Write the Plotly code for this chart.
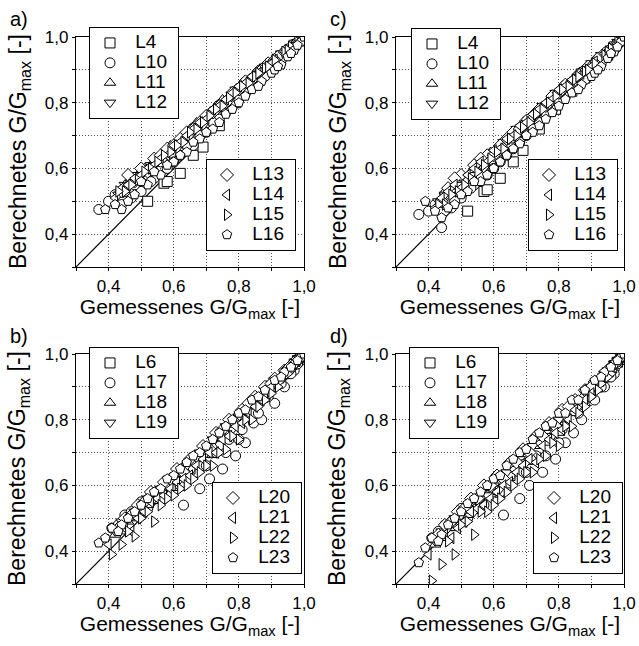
import plotly.graph_objects as go

# ---------------- data ----------------
# top row (panels a and c): measured x shared, computed y per panel
L4_x  = [0.52, 0.57, 0.58, 0.62, 0.66, 0.69, 0.74, 0.79, 0.84, 0.88, 0.92, 0.95, 0.97, 0.99, 1.0]
L4_ya = [0.50, 0.555, 0.56, 0.585, 0.64, 0.665, 0.73, 0.80, 0.86, 0.89, 0.925, 0.955, 0.975, 0.99, 1.0]
L4_yc = [0.47, 0.53, 0.535, 0.57, 0.62, 0.655, 0.72, 0.78, 0.835, 0.875, 0.915, 0.945, 0.97, 0.99, 1.0]

L10_x  = [0.37, 0.44, 0.47, 0.50, 0.54, 0.58, 0.62, 0.66, 0.70, 0.74, 0.78, 0.82, 0.86, 0.89, 0.92, 0.95, 0.97, 0.99, 1.0,
          0.42, 0.48, 0.52, 0.56, 0.64, 0.72, 0.80, 0.84, 0.93,
          0.40, 0.45, 0.53, 0.60, 0.68, 0.76, 0.88, 0.96, 0.98, 0.995]
L10_ya = [0.475, 0.49, 0.51, 0.53, 0.57, 0.60, 0.64, 0.67, 0.71, 0.75, 0.79, 0.83, 0.87, 0.895, 0.92, 0.95, 0.97, 0.99, 1.0,
          0.52, 0.55, 0.58, 0.62, 0.67, 0.74, 0.81, 0.86, 0.93,
          0.50, 0.53, 0.56, 0.62, 0.70, 0.77, 0.88, 0.955, 0.98, 0.995]
L10_yc = [0.46, 0.42, 0.48, 0.51, 0.55, 0.58, 0.62, 0.66, 0.70, 0.74, 0.78, 0.82, 0.855, 0.88, 0.91, 0.94, 0.965, 0.99, 1.0,
          0.49, 0.50, 0.55, 0.58, 0.64, 0.72, 0.80, 0.84, 0.92,
          0.47, 0.52, 0.54, 0.60, 0.68, 0.76, 0.87, 0.95, 0.975, 0.995]

L11_x  = [0.45, 0.49, 0.53, 0.57, 0.61, 0.65, 0.69, 0.73, 0.77, 0.81, 0.85, 0.88, 0.91, 0.94, 0.96, 0.98, 1.0,
          0.47, 0.55, 0.63, 0.71, 0.79, 0.86,
          0.43, 0.51, 0.59, 0.67, 0.75, 0.83, 0.93, 0.97, 0.99]
L11_ya = [0.55, 0.58, 0.61, 0.65, 0.68, 0.72, 0.75, 0.79, 0.82, 0.86, 0.89, 0.91, 0.935, 0.955, 0.97, 0.985, 1.0,
          0.57, 0.63, 0.70, 0.77, 0.84, 0.90,
          0.52, 0.60, 0.67, 0.74, 0.81, 0.87, 0.95, 0.975, 0.99]
L11_yc = [0.53, 0.56, 0.59, 0.63, 0.66, 0.70, 0.74, 0.77, 0.81, 0.85, 0.88, 0.905, 0.93, 0.95, 0.965, 0.985, 1.0,
          0.54, 0.61, 0.68, 0.75, 0.82, 0.88,
          0.49, 0.57, 0.65, 0.72, 0.79, 0.86, 0.94, 0.97, 0.99]

L12_x  = [0.43, 0.47, 0.51, 0.55, 0.59, 0.63, 0.67, 0.71, 0.75, 0.79, 0.83, 0.87, 0.90, 0.93, 0.96, 0.98, 1.0,
          0.49, 0.57, 0.65, 0.73, 0.81, 0.88,
          0.45, 0.53, 0.61, 0.69, 0.77, 0.85, 0.92, 0.95, 0.99]
L12_ya = [0.52, 0.56, 0.59, 0.62, 0.66, 0.69, 0.73, 0.76, 0.80, 0.84, 0.87, 0.90, 0.925, 0.95, 0.97, 0.985, 1.0,
          0.58, 0.63, 0.70, 0.78, 0.85, 0.91,
          0.55, 0.61, 0.66, 0.73, 0.81, 0.88, 0.94, 0.96, 0.99]
L12_yc = [0.50, 0.53, 0.57, 0.61, 0.64, 0.68, 0.72, 0.75, 0.79, 0.83, 0.86, 0.895, 0.92, 0.945, 0.965, 0.985, 1.0,
          0.55, 0.60, 0.67, 0.76, 0.83, 0.90,
          0.52, 0.58, 0.63, 0.71, 0.79, 0.87, 0.93, 0.955, 0.99]

L13_x  = [0.46, 0.50, 0.54, 0.58, 0.62, 0.66, 0.70, 0.74, 0.78, 0.82, 0.86, 0.89, 0.92, 0.95, 0.97, 0.99, 1.0,
          0.48, 0.56, 0.64, 0.72, 0.80, 0.87,
          0.44, 0.52, 0.60, 0.68, 0.76, 0.84, 0.91, 0.94, 0.98]
L13_ya = [0.58, 0.60, 0.63, 0.66, 0.69, 0.72, 0.76, 0.79, 0.83, 0.865, 0.895, 0.92, 0.94, 0.96, 0.975, 0.99, 1.0,
          0.56, 0.64, 0.71, 0.77, 0.84, 0.90,
          0.53, 0.59, 0.67, 0.74, 0.80, 0.87, 0.93, 0.955, 0.985]
L13_yc = [0.54, 0.58, 0.61, 0.64, 0.67, 0.71, 0.745, 0.78, 0.82, 0.855, 0.885, 0.91, 0.935, 0.955, 0.97, 0.99, 1.0,
          0.57, 0.63, 0.69, 0.76, 0.83, 0.89,
          0.50, 0.56, 0.64, 0.72, 0.79, 0.86, 0.92, 0.95, 0.98]

L14_x  = [0.44, 0.48, 0.52, 0.56, 0.60, 0.64, 0.68, 0.72, 0.76, 0.80, 0.84, 0.88, 0.91, 0.94, 0.97, 0.99, 1.0,
          0.46, 0.54, 0.62, 0.70, 0.78, 0.86,
          0.42, 0.50, 0.58, 0.66, 0.74, 0.82, 0.90, 0.95, 0.98]
L14_ya = [0.54, 0.57, 0.60, 0.63, 0.67, 0.70, 0.74, 0.78, 0.81, 0.85, 0.88, 0.91, 0.93, 0.955, 0.975, 0.99, 1.0,
          0.55, 0.61, 0.68, 0.75, 0.83, 0.89,
          0.51, 0.58, 0.64, 0.72, 0.79, 0.86, 0.92, 0.96, 0.985]
L14_yc = [0.51, 0.55, 0.58, 0.62, 0.655, 0.69, 0.73, 0.765, 0.80, 0.84, 0.87, 0.90, 0.925, 0.95, 0.97, 0.99, 1.0,
          0.53, 0.60, 0.66, 0.74, 0.81, 0.88,
          0.48, 0.54, 0.62, 0.70, 0.78, 0.85, 0.91, 0.955, 0.98]

L15_x  = [0.45, 0.49, 0.53, 0.57, 0.61, 0.65, 0.69, 0.73, 0.77, 0.81, 0.85, 0.88, 0.91, 0.94, 0.96, 0.98, 1.0,
          0.47, 0.55, 0.63, 0.71, 0.79, 0.86,
          0.43, 0.51, 0.59, 0.67, 0.75, 0.83, 0.89, 0.95, 0.99]
L15_ya = [0.53, 0.565, 0.60, 0.64, 0.67, 0.71, 0.74, 0.78, 0.815, 0.85, 0.88, 0.905, 0.93, 0.955, 0.97, 0.985, 1.0,
          0.55, 0.62, 0.68, 0.76, 0.83, 0.89,
          0.53, 0.59, 0.65, 0.72, 0.79, 0.86, 0.91, 0.96, 0.99]
L15_yc = [0.49, 0.53, 0.57, 0.61, 0.65, 0.69, 0.725, 0.765, 0.80, 0.84, 0.87, 0.895, 0.92, 0.945, 0.965, 0.985, 1.0,
          0.52, 0.59, 0.66, 0.74, 0.82, 0.88,
          0.49, 0.55, 0.63, 0.70, 0.78, 0.85, 0.90, 0.955, 0.99]

L16_x  = [0.39, 0.44, 0.48, 0.52, 0.56, 0.60, 0.64, 0.68, 0.72, 0.76, 0.80, 0.84, 0.87, 0.90, 0.93, 0.95, 0.97, 0.99, 1.0,
          0.46, 0.50, 0.58, 0.66, 0.74, 0.82, 0.91,
          0.42, 0.54, 0.62, 0.70, 0.78, 0.86, 0.92, 0.96, 0.98]
L16_ya = [0.475, 0.475, 0.52, 0.55, 0.58, 0.62, 0.65, 0.69, 0.72, 0.765, 0.80, 0.84, 0.865, 0.89, 0.915, 0.94, 0.96, 0.985, 1.0,
          0.50, 0.56, 0.61, 0.68, 0.74, 0.82, 0.90,
          0.49, 0.59, 0.64, 0.71, 0.78, 0.85, 0.91, 0.95, 0.975]
L16_yc = [0.50, 0.45, 0.49, 0.53, 0.56, 0.60, 0.64, 0.675, 0.71, 0.75, 0.79, 0.83, 0.855, 0.88, 0.91, 0.935, 0.955, 0.985, 1.0,
          0.48, 0.52, 0.58, 0.66, 0.73, 0.81, 0.89,
          0.47, 0.56, 0.62, 0.70, 0.77, 0.84, 0.90, 0.95, 0.97]

# bottom row (panels b and d)
L6_x  = [0.55, 0.60, 0.65, 0.70, 0.75, 0.80, 0.85, 0.90, 0.94, 0.97, 1.0, 0.62, 0.72, 0.82, 0.92, 0.98]
L6_yb = [0.56, 0.60, 0.65, 0.70, 0.75, 0.80, 0.85, 0.90, 0.94, 0.97, 1.0, 0.60, 0.70, 0.81, 0.91, 0.98]
L6_yd = [0.53, 0.58, 0.63, 0.68, 0.74, 0.79, 0.84, 0.89, 0.93, 0.965, 1.0, 0.58, 0.68, 0.79, 0.90, 0.975]

L17_x  = [0.41, 0.45, 0.50, 0.55, 0.60, 0.63, 0.68, 0.71, 0.75, 0.79, 0.82, 0.845, 0.87, 0.91, 0.94, 0.97, 0.99, 1.0,
          0.47, 0.53, 0.58, 0.65, 0.73, 0.77, 0.81, 0.89,
          0.43, 0.52, 0.57, 0.62, 0.70, 0.76, 0.80, 0.86, 0.93, 0.96, 0.98]
L17_yb = [0.47, 0.51, 0.55, 0.58, 0.62, 0.54, 0.59, 0.62, 0.65, 0.69, 0.73, 0.79, 0.80, 0.85, 0.90, 0.95, 0.98, 1.0,
          0.52, 0.57, 0.60, 0.65, 0.70, 0.74, 0.77, 0.87,
          0.48, 0.53, 0.56, 0.60, 0.66, 0.70, 0.74, 0.82, 0.91, 0.94, 0.97]
L17_yd = [0.44, 0.48, 0.53, 0.56, 0.60, 0.51, 0.56, 0.60, 0.64, 0.68, 0.73, 0.76, 0.80, 0.86, 0.90, 0.94, 0.98, 1.0,
          0.49, 0.54, 0.57, 0.63, 0.69, 0.74, 0.77, 0.87,
          0.46, 0.50, 0.54, 0.58, 0.64, 0.69, 0.73, 0.82, 0.90, 0.93, 0.97]

L18_x  = [0.42, 0.46, 0.50, 0.54, 0.58, 0.62, 0.66, 0.70, 0.74, 0.78, 0.82, 0.86, 0.89, 0.92, 0.95, 0.97, 0.99, 1.0,
          0.48, 0.56, 0.64, 0.72, 0.80, 0.88,
          0.44, 0.52, 0.60, 0.68, 0.76, 0.84, 0.91, 0.96, 0.98]
L18_yb = [0.45, 0.49, 0.53, 0.56, 0.60, 0.64, 0.67, 0.71, 0.75, 0.78, 0.82, 0.86, 0.89, 0.92, 0.95, 0.97, 0.99, 1.0,
          0.50, 0.58, 0.64, 0.72, 0.79, 0.87,
          0.46, 0.54, 0.61, 0.68, 0.76, 0.84, 0.91, 0.96, 0.98]
L18_yd = [0.42, 0.47, 0.50, 0.53, 0.57, 0.61, 0.65, 0.69, 0.72, 0.76, 0.80, 0.85, 0.88, 0.91, 0.94, 0.97, 0.99, 1.0,
          0.47, 0.55, 0.60, 0.68, 0.76, 0.85,
          0.44, 0.51, 0.58, 0.66, 0.73, 0.82, 0.90, 0.95, 0.98]

L19_x  = [0.44, 0.48, 0.52, 0.56, 0.60, 0.64, 0.68, 0.72, 0.76, 0.80, 0.84, 0.88, 0.91, 0.94, 0.97, 0.99, 1.0,
          0.46, 0.54, 0.62, 0.70, 0.78, 0.86,
          0.42, 0.50, 0.58, 0.66, 0.74, 0.82, 0.90, 0.95, 0.98]
L19_yb = [0.49, 0.52, 0.56, 0.59, 0.62, 0.66, 0.70, 0.74, 0.78, 0.81, 0.85, 0.89, 0.92, 0.945, 0.97, 0.99, 1.0,
          0.50, 0.56, 0.62, 0.70, 0.77, 0.86,
          0.46, 0.53, 0.60, 0.67, 0.75, 0.83, 0.91, 0.95, 0.98]
L19_yd = [0.46, 0.50, 0.53, 0.56, 0.60, 0.64, 0.68, 0.72, 0.76, 0.80, 0.84, 0.88, 0.91, 0.94, 0.97, 0.99, 1.0,
          0.47, 0.52, 0.59, 0.67, 0.75, 0.84,
          0.43, 0.51, 0.57, 0.65, 0.73, 0.81, 0.90, 0.95, 0.98]

L20_x  = [0.45, 0.49, 0.53, 0.57, 0.61, 0.65, 0.69, 0.73, 0.77, 0.81, 0.85, 0.88, 0.91, 0.94, 0.96, 0.98, 1.0,
          0.47, 0.55, 0.63, 0.71, 0.79, 0.87,
          0.43, 0.51, 0.59, 0.67, 0.75, 0.83, 0.90, 0.95, 0.99]
L20_yb = [0.50, 0.54, 0.58, 0.61, 0.65, 0.68, 0.72, 0.76, 0.80, 0.83, 0.87, 0.90, 0.925, 0.95, 0.965, 0.985, 1.0,
          0.51, 0.58, 0.64, 0.71, 0.79, 0.87,
          0.47, 0.55, 0.62, 0.69, 0.77, 0.85, 0.91, 0.955, 0.99]
L20_yd = [0.48, 0.52, 0.56, 0.60, 0.63, 0.67, 0.71, 0.75, 0.79, 0.83, 0.86, 0.89, 0.915, 0.94, 0.96, 0.98, 1.0,
          0.49, 0.56, 0.62, 0.70, 0.78, 0.86,
          0.45, 0.53, 0.60, 0.67, 0.75, 0.84, 0.90, 0.95, 0.99]

L21_x  = [0.40, 0.47, 0.51, 0.55, 0.59, 0.63, 0.67, 0.71, 0.75, 0.79, 0.83, 0.87, 0.90, 0.93, 0.96, 0.98, 1.0,
          0.45, 0.53, 0.61, 0.69, 0.77, 0.85,
          0.49, 0.57, 0.65, 0.73, 0.81, 0.88, 0.94, 0.97, 0.99]
L21_yb = [0.42, 0.46, 0.52, 0.56, 0.59, 0.62, 0.66, 0.70, 0.74, 0.78, 0.82, 0.86, 0.90, 0.93, 0.96, 0.98, 1.0,
          0.47, 0.55, 0.61, 0.68, 0.75, 0.84,
          0.50, 0.57, 0.63, 0.70, 0.79, 0.87, 0.94, 0.97, 0.99]
L21_yd = [0.39, 0.44, 0.49, 0.53, 0.56, 0.60, 0.64, 0.68, 0.72, 0.76, 0.80, 0.85, 0.88, 0.92, 0.95, 0.98, 1.0,
          0.45, 0.52, 0.58, 0.66, 0.74, 0.83,
          0.47, 0.54, 0.61, 0.67, 0.77, 0.86, 0.93, 0.96, 0.99]

L22_x  = [0.41, 0.44, 0.48, 0.54, 0.58, 0.62, 0.66, 0.70, 0.74, 0.78, 0.82, 0.86, 0.90, 0.93, 0.96, 0.98, 1.0,
          0.50, 0.56, 0.64, 0.72, 0.80, 0.88,
          0.46, 0.52, 0.60, 0.68, 0.76, 0.84, 0.92, 0.95, 0.99]
L22_yb = [0.39, 0.42, 0.445, 0.49, 0.56, 0.59, 0.62, 0.66, 0.70, 0.75, 0.80, 0.84, 0.88, 0.92, 0.95, 0.98, 1.0,
          0.50, 0.54, 0.60, 0.66, 0.74, 0.86,
          0.46, 0.52, 0.57, 0.64, 0.71, 0.80, 0.90, 0.94, 0.99]
L22_yd = [0.31, 0.36, 0.39, 0.45, 0.52, 0.56, 0.60, 0.64, 0.68, 0.73, 0.78, 0.82, 0.87, 0.91, 0.94, 0.97, 1.0,
          0.48, 0.52, 0.58, 0.64, 0.72, 0.84,
          0.43, 0.49, 0.54, 0.62, 0.69, 0.78, 0.89, 0.93, 0.99]

L23_x  = [0.37, 0.41, 0.44, 0.48, 0.52, 0.56, 0.60, 0.64, 0.68, 0.72, 0.76, 0.80, 0.84, 0.88, 0.91, 0.94, 0.97, 0.99, 1.0,
          0.43, 0.46, 0.50, 0.58, 0.66, 0.74, 0.82,
          0.39, 0.54, 0.62, 0.70, 0.78, 0.86, 0.93, 0.96, 0.98]
L23_yb = [0.425, 0.47, 0.48, 0.52, 0.56, 0.59, 0.63, 0.67, 0.70, 0.74, 0.78, 0.82, 0.86, 0.89, 0.92, 0.945, 0.97, 0.99, 1.0,
          0.46, 0.50, 0.54, 0.62, 0.69, 0.76, 0.83,
          0.44, 0.58, 0.65, 0.72, 0.80, 0.87, 0.93, 0.96, 0.98]
L23_yd = [0.365, 0.44, 0.45, 0.50, 0.545, 0.58, 0.62, 0.66, 0.70, 0.74, 0.78, 0.82, 0.86, 0.89, 0.92, 0.945, 0.97, 0.99, 1.0,
          0.43, 0.48, 0.52, 0.60, 0.68, 0.76, 0.82,
          0.41, 0.56, 0.63, 0.71, 0.79, 0.86, 0.93, 0.96, 0.98]

major_ticks = [0.4, 0.6, 0.8, 1.0]
diag = [0.3, 1.0]
x_title = "Gemessenes G/G<sub>max</sub> [-]"
y_title = "Berechnetes G/G<sub>max</sub> [-]"

symbols = ["square", "circle", "triangle-up", "triangle-down",
           "diamond", "triangle-left", "triangle-right", "pentagon"]

top_series = [("L4", L4_x, L4_ya, L4_yc), ("L10", L10_x, L10_ya, L10_yc),
              ("L11", L11_x, L11_ya, L11_yc), ("L12", L12_x, L12_ya, L12_yc),
              ("L13", L13_x, L13_ya, L13_yc), ("L14", L14_x, L14_ya, L14_yc),
              ("L15", L15_x, L15_ya, L15_yc), ("L16", L16_x, L16_ya, L16_yc)]
bot_series = [("L6", L6_x, L6_yb, L6_yd), ("L17", L17_x, L17_yb, L17_yd),
              ("L18", L18_x, L18_yb, L18_yd), ("L19", L19_x, L19_yb, L19_yd),
              ("L20", L20_x, L20_yb, L20_yd), ("L21", L21_x, L21_yb, L21_yd),
              ("L22", L22_x, L22_yb, L22_yd), ("L23", L23_x, L23_yb, L23_yd)]

# ---------------- layout geometry ----------------
W, H = 639, 646
FONT = "Liberation Sans, Arial, Helvetica, sans-serif"
GRID = dict(showgrid=True, gridcolor="#555555", griddash="1px,2px", gridwidth=1)

panels = [
    ("",  76, 304, 37, 267, "a)", ("legend", "legend2"), (89, 27), (206, 159)),
    ("2", 396, 624, 37, 267, "c)", ("legend3", "legend4"), (411, 28), (528, 159)),
    ("3", 76, 304, 354, 584, "b)", ("legend5", "legend6"), (89, 347), (212, 482)),
    ("4", 396, 624, 354, 584, "d)", ("legend7", "legend8"), (409, 347), (533, 482)),
]

fig = go.Figure()
layout = dict(width=W, height=H, autosize=False, separators=",.",
              margin=dict(l=0, r=0, t=0, b=0),
              paper_bgcolor="white", plot_bgcolor="white",
              font=dict(family=FONT, color="black", size=17),
              annotations=[])

for idx, (suf, l, r, t, b, lab, legs, ul, lr) in enumerate(panels):
    xa, ya = "x" + suf, "y" + suf
    axcommon = dict(GRID, range=[0.3, 1.0], tickmode="array", tickvals=major_ticks,
                    tickformat=".1f",
                    minor=dict(GRID, dtick=0.1, tick0=0.3, ticks="outside", ticklen=3,
                               tickcolor="black"),
                    showline=True, linecolor="black", linewidth=1.2, mirror=True,
                    ticks="outside", ticklen=3, tickcolor="black",
                    tickfont=dict(size=17, family=FONT), zeroline=False, automargin=False)
    layout["xaxis" + suf] = dict(axcommon, domain=[l / W, r / W], anchor=ya,
                                 title=dict(text=x_title,
                                            font=dict(size=21, family=FONT), standoff=2))
    layout["yaxis" + suf] = dict(axcommon, domain=[1 - b / H, 1 - t / H], anchor=xa)
    fig.add_trace(go.Scatter(x=diag, y=diag, mode="lines", line=dict(color="black", width=1.2),
                             xaxis=xa, yaxis=ya, showlegend=False, hoverinfo="skip"))
    series = top_series if idx < 2 else bot_series
    col = 2 if idx in (0, 2) else 3
    for k, s in enumerate(series):
        name = s[0]
        fig.add_trace(go.Scatter(
            x=s[1], y=s[col], mode="markers", xaxis=xa, yaxis=ya,
            name='<span style="font-size:19px">\u00a0' + name + "\u00a0</span>",
            legend=legs[0] if k < 4 else legs[1],
            marker=dict(symbol=symbols[k], size=10, color="white",
                        line=dict(color="black", width=1))))
    for lg, pos in ((legs[0], ul), (legs[1], lr)):
        layout[lg] = dict(x=pos[0] / W, y=1 - pos[1] / H, xanchor="left", yanchor="top",
                          bgcolor="white", bordercolor="black", borderwidth=1,
                          font=dict(size=13, family=FONT), tracegroupgap=0)
    # panel letter
    layout["annotations"].append(dict(text=lab, x=(l - 68) / W, y=1 - (t - 18) / H,
                                      xref="paper", yref="paper", xanchor="left",
                                      yanchor="middle", showarrow=False,
                                      font=dict(size=20, family=FONT)))
    # y-axis title (rotated)
    layout["annotations"].append(dict(text=y_title, textangle=-90,
                                      x=(l - 57) / W, y=1 - ((t + b) / 2) / H,
                                      xref="paper", yref="paper", xanchor="center",
                                      yanchor="middle", showarrow=False,
                                      font=dict(size=23, family=FONT)))

fig.update_layout(**layout)
fig.write_html("out.html")
